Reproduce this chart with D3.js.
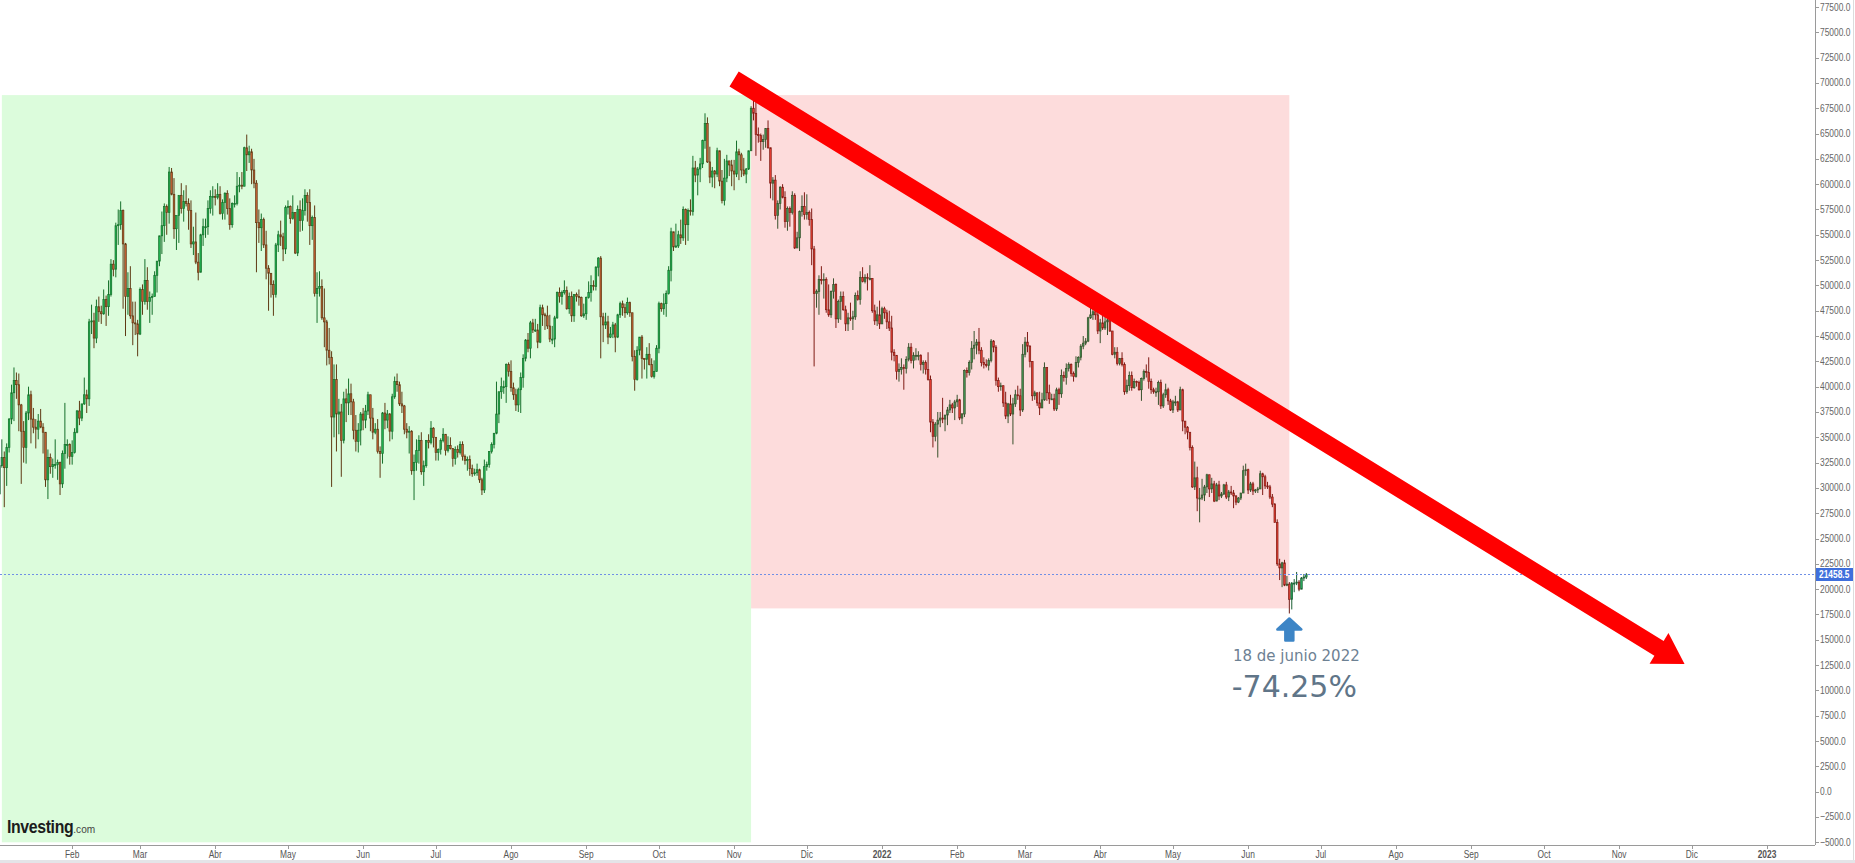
<!DOCTYPE html>
<html>
<head>
<meta charset="utf-8">
<script src="https://cdn.jsdelivr.net/npm/d3@7"></script>
<style>
  html, body { margin: 0; padding: 0; background: #fff; }
  svg { display: block; }
</style>
</head>
<body>
<div id="chart"></div>
<script>

// BTC/USD daily, values in thousands of USD (open = previous close)
const months = ['2021-01', '2021-02', '2021-03', '2021-04', '2021-05', '2021-06',
    '2021-07', '2021-08', '2021-09', '2021-10', '2021-11', '2021-12',
    '2022-01', '2022-02', '2022-03', '2022-04', '2022-05', '2022-06'];

const firstOpen = 29.0;

const closes = [
    [29.4,32.2,33.0,32.0,34.0,36.8,39.4,40.6,40.2,38.2,35.6,34.0,37.4,39.2,36.8,36.0,35.8,36.6,36.0,35.5,30.8,33.0,32.1,32.3,32.3,32.5,30.4,33.4,34.3,34.3,33.1],
    [33.5,35.5,37.6,36.9,38.3,39.2,38.8,46.4,46.5,44.8,47.9,47.4,47.2,48.6,47.9,49.1,52.1,51.6,55.9,56.0,57.4,54.1,48.9,49.7,47.0,46.3,46.2,45.2],
    [49.6,48.4,50.5,48.4,48.8,48.9,51.0,52.4,54.9,55.9,57.8,57.2,61.2,59.0,55.6,56.9,58.9,57.6,58.3,58.1,57.4,54.1,54.3,52.3,51.3,55.0,55.8,55.8,57.6,58.8,58.8],
    [58.7,59.0,57.1,58.2,59.1,57.6,56.0,58.1,58.1,59.8,59.9,59.8,63.6,62.9,63.2,61.4,60.1,56.2,55.7,56.5,54.0,51.7,51.2,50.1,49.1,54.0,55.0,54.8,53.6,57.7],
    [57.8,56.6,57.2,53.2,57.5,56.4,57.4,58.9,58.2,55.9,56.7,49.2,49.7,49.9,46.8,46.4,43.6,42.9,37.0,40.7,37.3,37.5,34.7,38.8,38.4,39.3,38.5,35.7,34.6,35.7,37.3],
    [36.7,37.6,39.2,36.9,35.5,35.8,33.6,33.4,37.4,36.7,37.3,35.6,39.0,40.5,40.2,38.3,38.1,35.8,35.5,35.6,31.7,32.5,33.7,34.7,31.6,32.2,34.7,34.5,35.9,35.0],
    [33.5,33.8,34.7,35.3,33.7,34.2,33.9,32.9,33.8,33.5,34.3,33.1,32.7,32.8,31.9,31.4,31.5,31.8,30.8,29.8,32.1,32.3,33.6,34.3,35.4,37.3,39.5,40.0,40.0,42.2,41.5],
    [39.9,39.2,38.2,39.7,40.9,42.8,44.6,43.8,46.3,45.6,45.6,44.4,47.8,47.1,47.0,46.0,44.7,44.7,46.8,49.3,48.9,49.3,49.5,47.7,48.9,47.0,49.1,48.9,48.8,47.0,47.2],
    [48.8,49.3,50.0,49.9,51.8,52.7,46.9,46.1,46.4,44.9,45.2,46.1,44.9,47.1,48.2,47.8,47.3,48.3,47.3,43.0,40.7,43.6,44.9,42.8,42.7,43.2,42.2,41.0,41.5,43.8],
    [48.2,47.7,48.2,49.2,51.5,55.3,53.8,53.9,55.0,54.7,57.5,56.0,57.4,57.3,61.6,60.9,61.5,62.0,64.3,66.0,62.2,60.7,61.3,61.0,63.3,60.3,58.4,60.6,62.3,61.9,61.3],
    [61.0,63.2,62.9,61.4,61.0,61.5,63.3,67.5,67.0,64.9,64.8,64.2,64.4,65.5,63.6,60.1,60.4,56.9,58.1,59.7,58.7,56.3,57.6,57.2,58.9,53.7,54.7,57.3,57.8,57.0],
    [57.2,56.5,53.6,49.2,49.4,50.6,50.5,50.6,47.6,47.1,49.4,50.1,46.7,48.4,48.9,47.6,46.2,46.8,46.7,46.9,49.0,48.6,50.8,50.4,50.8,50.7,50.7,47.5,46.5,47.1,46.2],
    [47.7,47.3,46.4,45.8,43.4,43.1,41.5,41.7,41.9,41.8,42.7,43.9,42.6,43.1,43.1,43.1,42.2,42.4,41.7,40.7,36.5,35.1,36.3,36.7,36.9,36.8,37.2,37.7,38.2,37.9,38.5],
    [38.7,36.9,37.3,41.6,41.4,42.4,43.8,44.1,44.4,43.6,42.4,42.2,42.1,42.6,44.5,43.9,40.6,40.0,40.1,38.4,37.1,38.3,37.3,38.3,39.2,39.1,37.7,43.2],
    [44.4,44.0,42.5,39.1,39.4,38.4,37.9,38.7,41.9,39.4,38.8,38.8,37.8,39.7,39.3,41.1,40.9,41.8,42.2,41.3,41.0,42.4,42.9,44.0,44.3,44.5,46.8,47.1,47.4,47.1,45.5],
    [46.3,45.8,46.4,46.6,45.5,43.2,43.4,42.3,42.8,42.2,39.5,40.1,41.1,39.9,40.5,40.4,39.7,40.8,41.5,41.4,40.5,39.7,39.5,39.5,40.4,38.1,39.2,39.7,38.6,37.7],
    [38.5,38.5,37.7,39.7,36.6,36.0,35.5,34.0,30.1,31.0,29.0,29.0,29.3,30.1,31.3,29.9,30.4,28.7,30.3,29.2,29.4,30.3,29.1,29.6,29.5,29.2,28.6,29.0,29.5,31.7,31.8],
    [29.8,30.4,29.7,29.8,29.9,31.4,31.1,30.2,30.1,29.1,28.4,26.6,22.5,22.1,22.6,20.4,20.5,19.0,20.6,20.6,20.7,20.0,21.1,21.2,21.4585]
];

const highs = [
    [29.6,33.3,34.8,33.6,34.4,36.9,40.2,41.9,41.4,41.3,38.3,36.6,37.6,40.0,39.6,37.9,36.8,37.3,37.8,36.4,35.5,33.8,33.4,32.9,34.8,32.8,32.6,33.7,38.4,34.8,34.4],
    [34.7,35.9,37.7,38.6,38.3,40.9,39.7,46.7,48.1,47.3,48.6,48.9,48.0,49.6,49.0,50.5,52.6,52.5,56.2,57.5,58.3,57.5,54.2,51.3,51.9,48.4,48.4,46.6],
    [49.8,50.1,52.6,51.8,49.4,49.2,51.4,52.4,54.9,57.3,58.1,58.0,61.7,61.6,60.6,56.9,58.9,60.1,59.4,59.9,58.6,58.4,55.8,57.2,53.2,55.1,56.6,56.6,58.4,59.4,59.8],
    [59.5,60.1,59.8,58.5,59.2,59.4,58.6,58.2,58.9,61.2,60.7,61.2,63.7,64.9,63.8,63.5,62.5,60.4,57.5,57.1,56.7,55.4,52.0,51.1,50.5,54.2,55.4,56.4,55.2,57.9],
    [58.4,57.9,58.9,57.2,57.9,58.4,58.6,59.5,59.2,59.5,56.9,57.9,51.3,51.4,50.6,49.7,46.6,45.8,43.5,42.2,42.2,38.8,38.3,39.5,39.8,40.8,40.3,38.8,37.2,36.4,37.5],
    [37.9,38.2,39.5,39.2,37.9,36.4,36.8,34.1,37.5,38.4,37.7,37.4,39.3,41.0,41.3,40.5,39.5,38.2,36.4,36.1,35.7,33.3,34.8,35.2,35.5,32.7,34.7,35.3,36.6,36.0],
    [35.0,33.9,34.9,35.9,35.3,35.1,35.0,33.9,34.1,34.2,34.6,34.6,33.3,33.1,33.2,32.3,31.9,32.4,31.9,31.0,32.8,32.6,33.6,34.5,35.4,40.5,39.5,40.9,40.6,42.3,42.4],
    [42.6,40.4,39.8,39.9,41.4,43.2,44.7,45.3,46.5,46.7,46.7,46.2,48.1,48.1,47.3,48.0,47.1,46.0,47.0,49.4,49.8,49.5,50.5,49.9,49.3,49.4,49.1,49.3,49.6,48.9,48.2],
    [48.9,50.4,51.0,50.5,51.9,52.8,52.9,47.3,47.3,47.0,45.9,46.4,46.3,47.2,48.4,48.5,48.2,48.8,48.4,47.3,43.6,44.0,44.9,45.1,42.8,43.9,44.3,42.8,42.6,44.1],
    [48.4,48.3,49.2,49.5,51.9,55.7,55.3,56.1,55.4,56.5,57.8,57.6,57.6,58.5,62.8,62.3,61.7,62.6,64.4,67.0,66.6,63.7,61.7,61.4,63.6,63.3,61.4,62.5,62.9,62.3,62.4],
    [62.4,64.3,63.5,63.1,62.6,61.6,63.3,67.7,68.5,69.0,65.6,65.0,64.9,65.5,66.3,63.6,60.7,60.9,58.4,59.8,60.0,59.3,57.8,57.8,59.3,59.1,55.3,57.4,58.9,59.2],
    [59.0,57.4,57.6,53.9,49.6,51.0,51.9,51.2,50.8,50.1,49.5,50.7,50.2,48.6,49.4,49.4,48.0,47.3,48.3,47.5,49.3,49.5,51.4,51.8,51.1,51.2,52.0,50.7,48.1,47.9,48.5],
    [47.9,47.9,47.6,47.5,47.0,43.7,43.1,42.3,42.8,42.2,43.0,44.3,44.3,43.4,43.8,43.5,43.2,42.6,42.6,43.4,41.1,36.8,36.5,37.5,37.5,38.9,37.2,38.0,38.7,38.4,38.7],
    [39.2,38.8,37.4,41.7,41.9,42.6,44.5,45.5,44.7,45.8,43.9,42.9,42.7,42.8,44.7,44.6,44.1,40.9,40.4,40.1,39.5,38.4,39.2,38.9,39.7,40.1,39.8,44.2],
    [44.9,45.4,44.1,42.5,39.6,39.4,39.5,39.4,42.4,41.9,40.2,39.3,39.3,39.9,39.9,41.7,41.5,42.3,42.4,42.3,41.5,43.0,43.0,44.2,45.0,44.8,46.9,48.2,48.1,47.7,47.6],
    [46.7,47.2,47.0,46.9,47.2,45.5,43.9,43.9,42.8,43.4,42.4,40.7,41.5,41.5,40.8,40.6,40.6,40.9,41.7,42.2,42.9,40.8,39.9,39.9,40.6,40.7,39.4,40.3,39.9,38.8],
    [38.7,39.1,38.6,40.0,39.8,36.6,36.1,35.5,34.2,32.6,32.1,30.0,30.9,30.3,31.4,31.3,31.0,30.7,30.5,30.7,29.6,30.4,30.6,29.8,30.2,29.8,29.3,29.1,29.5,32.2,32.4],
    [31.9,30.6,30.6,29.9,30.1,31.7,31.5,31.3,30.6,30.3,29.4,28.5,26.9,23.0,22.7,22.9,21.3,20.7,20.7,21.0,21.7,20.9,21.2,21.5,21.6]
];

const lows = [
    [28.8,29.0,32.0,28.1,30.2,33.5,36.3,36.6,38.8,35.6,30.4,32.5,32.4,36.7,34.4,35.4,33.9,34.8,35.9,33.4,30.1,28.9,31.4,31.0,31.9,30.8,29.3,30.0,31.9,32.9,32.3],
    [32.3,33.4,35.4,36.2,36.6,38.2,37.4,38.1,45.2,43.8,44.3,46.4,46.2,47.1,46.0,47.0,48.9,50.9,50.8,54.0,55.5,47.7,45.0,47.1,46.7,44.1,45.1,43.0],
    [45.1,47.1,48.1,47.6,46.3,47.1,48.9,49.3,51.9,53.1,54.3,55.0,56.1,58.9,54.6,53.5,54.2,57.1,56.3,57.8,55.5,53.7,53.0,52.1,50.5,51.3,53.9,54.7,55.0,57.1,56.9],
    [57.9,58.5,57.0,56.5,56.5,57.0,55.5,55.7,57.7,57.9,59.2,59.5,59.8,61.3,62.1,60.0,59.6,51.3,54.2,53.4,53.7,50.6,47.5,48.8,47.0,48.8,53.3,53.9,52.4,53.1],
    [57.0,56.1,56.5,53.1,52.9,55.3,55.4,56.9,56.3,54.0,54.5,48.9,46.3,48.9,46.6,43.9,42.1,42.2,30.1,35.0,33.6,35.3,31.1,34.4,36.5,37.2,37.2,34.8,33.6,33.5,34.2],
    [35.7,35.9,37.2,35.6,34.8,35.3,33.4,31.0,32.4,35.8,35.9,34.6,34.8,38.8,39.5,38.1,37.4,35.3,34.9,33.4,31.3,28.8,31.7,32.4,31.3,30.2,32.0,33.9,34.3,34.0],
    [32.7,32.7,33.3,34.5,33.2,33.5,33.8,32.1,32.3,33.0,33.3,32.7,32.3,31.7,31.2,31.1,31.2,31.2,30.5,29.3,29.5,31.7,32.0,33.4,33.9,35.3,36.4,38.8,39.3,38.4,41.0],
    [39.5,38.7,37.6,37.5,37.4,39.9,42.5,43.4,42.8,45.3,45.4,43.8,44.3,46.0,45.6,45.7,44.4,44.2,43.9,46.7,48.3,48.1,49.1,47.6,47.2,46.4,46.4,48.4,48.0,46.9,46.8],
    [46.6,48.7,48.4,49.5,49.5,50.9,42.8,44.4,45.7,44.2,44.8,44.8,43.4,44.8,46.8,47.0,46.8,47.1,46.9,42.5,39.6,40.6,43.1,40.8,41.7,40.8,42.1,40.9,40.8,41.5],
    [43.3,47.4,47.1,46.9,49.1,50.4,53.4,53.7,53.7,54.1,54.4,54.0,54.4,56.9,56.9,60.2,58.9,60.2,61.6,63.5,62.1,60.1,59.7,59.6,60.7,59.8,58.1,57.9,60.2,60.8,59.8],
    [59.4,60.7,60.4,60.7,60.8,60.1,61.4,63.3,66.3,62.8,64.1,62.3,63.4,63.6,63.5,58.6,58.4,56.5,55.6,57.5,58.6,55.7,55.4,55.8,57.0,53.6,53.7,53.4,56.8,56.5],
    [56.5,55.9,52.0,42.0,47.8,47.1,50.1,48.7,47.3,46.9,46.8,48.7,45.8,46.3,46.6,47.5,45.5,45.5,46.5,45.6,46.6,48.5,48.1,50.3,50.2,49.5,50.5,47.3,46.1,46.0,45.7],
    [46.2,46.7,45.7,45.5,42.6,42.5,40.7,40.5,41.2,39.7,41.3,42.5,42.3,41.8,42.6,42.6,41.6,41.3,41.2,40.6,35.5,34.0,34.6,33.0,36.0,36.4,35.6,36.2,37.4,37.4,36.7],
    [38.0,36.7,36.3,37.0,40.9,41.1,41.7,42.7,43.2,43.2,42.0,41.8,41.9,41.6,42.4,43.4,40.1,39.5,39.6,38.0,36.8,36.4,37.1,34.3,38.0,38.7,37.1,37.5],
    [42.9,43.4,41.9,38.6,38.7,38.1,37.2,37.9,38.6,38.6,38.3,38.7,37.6,37.6,38.2,38.9,40.5,40.2,41.5,41.0,40.5,40.9,41.9,42.6,43.7,44.1,44.4,46.7,46.6,46.6,45.2],
    [44.3,45.6,45.6,45.1,45.4,43.1,42.8,42.1,42.1,42.0,39.2,39.3,39.6,39.6,39.8,40.0,39.6,38.6,40.6,40.9,39.8,39.3,39.3,39.0,38.2,37.8,37.9,38.9,38.2,37.6],
    [37.4,38.1,37.5,37.7,35.6,35.3,34.8,33.7,30.0,29.8,27.7,26.6,28.8,28.7,29.5,29.1,29.5,28.6,28.7,28.8,29.0,29.3,28.9,28.7,29.3,28.0,28.3,28.5,28.8,29.5,31.2],
    [29.4,29.6,29.3,29.5,29.5,29.9,29.3,29.9,29.9,28.9,28.1,26.6,22.3,20.9,20.2,20.3,20.3,17.6,18.0,19.7,20.4,19.8,20.0,20.8,21.0]
];

const lastPrice = 21458.5;

const yTicks = d3.range(-5000, 77501, 2500);
const monthTicks = ['2021-02-01', '2021-03-01', '2021-04-01', '2021-05-01', '2021-06-01', '2021-07-01',
    '2021-08-01', '2021-09-01', '2021-10-01', '2021-11-01', '2021-12-01', '2022-01-01',
    '2022-02-01', '2022-03-01', '2022-04-01', '2022-05-01', '2022-06-01', '2022-07-01',
    '2022-08-01', '2022-09-01', '2022-10-01', '2022-11-01', '2022-12-01', '2023-01-01'];
const monthLabels = ['Feb', 'Mar', 'Abr', 'May', 'Jun', 'Jul', 'Ago', 'Sep', 'Oct', 'Nov', 'Dic', '2022',
    'Feb', 'Mar', 'Abr', 'May', 'Jun', 'Jul', 'Ago', 'Sep', 'Oct', 'Nov', 'Dic', '2023'];

// drawn zones and trend arrow (date, price)
const bullZone = {from: '2021-01-03', to: '2021-11-08', top: 68800, bottom: -5000};
const bearZone = {from: '2021-11-08', to: '2022-06-18', top: 68800, bottom: 18100};
const trendStart = {date: '2021-11-01', value: 70400};
const trendEnd = {date: '2022-11-28', value: 12600};
const lowPoint = {date: '2022-06-18', value: 17600};
const lowLabel = '18 de junio 2022';
const dropLabel = '-74.25%';


const width = 1855;
const height = 863;
const plotRight = 1815;
const plotBottom = 845;
const axisFont = '"Liberation Sans", Arial, sans-serif';
const narrow = 0.8;

const parse = d3.utcParse('%Y-%m-%d');

buildChart();


function buildChart() {

    // flatten months into daily candles
    let candles = [];
    let prev = firstOpen;
    months.forEach((m, mi) => {
        const start = parse(m + '-01');
        closes[mi].forEach((c, di) => {
            const o = prev;
            const h = Math.max(highs[mi][di], o, c);
            const l = Math.min(lows[mi][di], o, c);
            candles.push({
                date: d3.utcDay.offset(start, di),
                open: o * 1000, close: c * 1000, high: h * 1000, low: l * 1000
            });
            prev = c;
        });
    });

    const x = d3.scaleUtc()
        .domain([parse('2021-01-01'), parse('2023-01-01')])
        .range([-3.0, 1767]);

    const y = d3.scaleLinear()
        .domain([-5000, 77500])
        .range([842.3, 7.0]);

    const svg = d3.select('#chart')
        .append('svg')
        .attr('width', width)
        .attr('height', height);

    svg.append('rect')
        .attr('width', width)
        .attr('height', height)
        .attr('fill', '#fff');

    svg.append('defs')
        .append('clipPath')
        .attr('id', 'plot-clip')
        .append('rect')
        .attr('x', 0)
        .attr('y', 0)
        .attr('width', plotRight)
        .attr('height', plotBottom);

    const plot = svg.append('g')
        .attr('clip-path', 'url(#plot-clip)');

    // candles
    const upFill = '#27ae60', upLine = '#1b5e33';
    const downFill = '#e74c3c', downLine = '#6e1f18';

    const g = plot.append('g');

    g.selectAll('.wick')
        .data(candles)
        .enter()
        .append('line')
        .attr('class', 'wick')
        .attr('x1', (d) => x(d.date))
        .attr('x2', (d) => x(d.date))
        .attr('y1', (d) => y(d.high))
        .attr('y2', (d) => y(d.low))
        .attr('stroke', (d) => d.close >= d.open ? upLine : downLine)
        .attr('stroke-width', 1);

    g.selectAll('.body')
        .data(candles)
        .enter()
        .append('rect')
        .attr('class', 'body')
        .attr('x', (d) => x(d.date) - 0.8)
        .attr('width', 1.6)
        .attr('y', (d) => y(Math.max(d.open, d.close)))
        .attr('height', (d) => Math.max(1, y(Math.min(d.open, d.close)) - y(Math.max(d.open, d.close))))
        .attr('fill', (d) => d.close >= d.open ? upFill : downFill)
        .attr('stroke', (d) => d.close >= d.open ? upLine : downLine)
        .attr('stroke-width', 0.7);

    // zones
    plot.append('rect')
        .attr('x', x(parse(bullZone.from)))
        .attr('y', y(bullZone.top))
        .attr('width', x(parse(bullZone.to)) - x(parse(bullZone.from)))
        .attr('height', y(bullZone.bottom) - y(bullZone.top))
        .attr('fill', 'rgb(0,233,0)')
        .attr('fill-opacity', 0.137);

    plot.append('rect')
        .attr('x', x(parse(bearZone.from)))
        .attr('y', y(bearZone.top))
        .attr('width', x(parse(bearZone.to)) - x(parse(bearZone.from)))
        .attr('height', y(bearZone.bottom) - y(bearZone.top))
        .attr('fill', 'rgb(241,0,0)')
        .attr('fill-opacity', 0.137);

    // last price line
    plot.append('line')
        .attr('x1', 0)
        .attr('x2', plotRight)
        .attr('y1', Math.round(y(lastPrice)) + 0.5)
        .attr('y2', Math.round(y(lastPrice)) + 0.5)
        .attr('stroke', '#6f8fe6')
        .attr('stroke-width', 1)
        .attr('stroke-dasharray', '2,2');

    // trend arrow
    const sx = x(parse(trendStart.date)), sy = y(trendStart.value);
    const tx = x(parse(trendEnd.date)), ty = y(trendEnd.value);
    const len = Math.hypot(tx - sx, ty - sy);
    const ux = (tx - sx) / len, uy = (ty - sy) / len;
    const nx = -uy, ny = ux;
    const band = 8.8, headLen = 30, headHalf = 18;
    const bx = tx - ux * headLen, by = ty - uy * headLen;

    const arrowPath = d3.path();
    arrowPath.moveTo(sx + nx * band, sy + ny * band);
    arrowPath.lineTo(bx + nx * band, by + ny * band);
    arrowPath.lineTo(bx + nx * headHalf, by + ny * headHalf);
    arrowPath.lineTo(tx, ty);
    arrowPath.lineTo(bx - nx * headHalf, by - ny * headHalf);
    arrowPath.lineTo(bx - nx * band, by - ny * band);
    arrowPath.lineTo(sx - nx * band, sy - ny * band);
    arrowPath.closePath();

    svg.append('path')
        .attr('d', arrowPath.toString())
        .attr('fill', '#ff0000');

    // low annotation
    const ax = x(parse(lowPoint.date));
    const ay = y(lowPoint.value) + 5;
    const upArrow = d3.path();
    upArrow.moveTo(ax, ay);
    upArrow.lineTo(ax + 12, ay + 11);
    upArrow.lineTo(ax + 4, ay + 11);
    upArrow.lineTo(ax + 4, ay + 22);
    upArrow.lineTo(ax - 4, ay + 22);
    upArrow.lineTo(ax - 4, ay + 11);
    upArrow.lineTo(ax - 12, ay + 11);
    upArrow.closePath();

    svg.append('path')
        .attr('d', upArrow.toString())
        .attr('fill', '#3d85c6')
        .attr('stroke', '#3d85c6')
        .attr('stroke-width', 2.5)
        .attr('stroke-linejoin', 'round');

    svg.append('text')
        .attr('x', ax + 7)
        .attr('y', ay + 43)
        .attr('text-anchor', 'middle')
        .attr('font-family', '"DejaVu Sans", Verdana, sans-serif')
        .attr('font-size', 15)
        .attr('fill', '#6d8193')
        .text(lowLabel);

    svg.append('text')
        .attr('x', ax + 5)
        .attr('y', ay + 79)
        .attr('text-anchor', 'middle')
        .attr('font-family', '"DejaVu Sans", Verdana, sans-serif')
        .attr('font-size', 30)
        .attr('fill', '#607588')
        .text(dropLabel);

    // right axis
    svg.append('line')
        .attr('x1', plotRight + 0.5)
        .attr('x2', plotRight + 0.5)
        .attr('y1', 0)
        .attr('y2', plotBottom)
        .attr('stroke', '#9a9a9a');

    const yt = svg.append('g');
    yt.selectAll('line')
        .data(yTicks)
        .enter()
        .append('line')
        .attr('x1', plotRight)
        .attr('x2', plotRight + 4)
        .attr('y1', (d) => Math.round(y(d)) + 0.5)
        .attr('y2', (d) => Math.round(y(d)) + 0.5)
        .attr('stroke', '#9a9a9a');

    yt.selectAll('text')
        .data(yTicks)
        .enter()
        .append('text')
        .attr('transform', (d) => `translate(${plotRight + 5}, ${y(d) + 3.5}) scale(${narrow}, 1)`)
        .attr('font-family', axisFont)
        .attr('font-size', 10.5)
        .attr('fill', '#666')
        .text((d) => d3.format('.1f')(d));

    // last price tag
    const py = Math.round(y(lastPrice));
    svg.append('rect')
        .attr('x', plotRight + 1)
        .attr('y', py - 6)
        .attr('width', 37)
        .attr('height', 13)
        .attr('fill', '#3f6fdc');

    svg.append('text')
        .attr('transform', `translate(${plotRight + 4}, ${py + 4}) scale(${narrow}, 1)`)
        .attr('font-family', axisFont)
        .attr('font-size', 10.5)
        .attr('font-weight', 'bold')
        .attr('fill', '#fff')
        .text(d3.format('.1f')(lastPrice));

    // bottom axis
    svg.append('line')
        .attr('x1', 0)
        .attr('x2', plotRight)
        .attr('y1', plotBottom + 0.5)
        .attr('y2', plotBottom + 0.5)
        .attr('stroke', '#9a9a9a');

    const xt = svg.append('g');
    xt.selectAll('line')
        .data(monthTicks)
        .enter()
        .append('line')
        .attr('x1', (d) => Math.round(x(parse(d))) + 0.5)
        .attr('x2', (d) => Math.round(x(parse(d))) + 0.5)
        .attr('y1', plotBottom)
        .attr('y2', plotBottom + 4)
        .attr('stroke', '#9a9a9a');

    xt.selectAll('text')
        .data(monthTicks)
        .enter()
        .append('text')
        .attr('transform', (d) => `translate(${x(parse(d))}, ${plotBottom + 13}) scale(${narrow}, 1)`)
        .attr('text-anchor', 'middle')
        .attr('font-family', axisFont)
        .attr('font-size', 10.5)
        .attr('font-weight', (d, i) => /^\d{4}$/.test(monthLabels[i]) ? 'bold' : 'normal')
        .attr('fill', '#555')
        .text((d, i) => monthLabels[i]);

    // frame strips
    svg.append('rect')
        .attr('x', 0)
        .attr('y', 860)
        .attr('width', width)
        .attr('height', 3)
        .attr('fill', '#e4e4e8');

    svg.append('line')
        .attr('x1', 1853.5)
        .attr('x2', 1853.5)
        .attr('y1', 0)
        .attr('y2', 860)
        .attr('stroke', '#dcdcdc');

    // logo
    const logo = svg.append('text')
        .attr('transform', `translate(7, 833) scale(0.88, 1)`)
        .attr('font-family', axisFont);
    logo.append('tspan')
        .attr('font-size', 18)
        .attr('font-weight', 'bold')
        .attr('letter-spacing', -0.4)
        .attr('fill', '#1c1c1c')
        .text('Investing');
    logo.append('tspan')
        .attr('font-size', 11.5)
        .attr('fill', '#444')
        .text('.com');

}

</script>
</body>
</html>
